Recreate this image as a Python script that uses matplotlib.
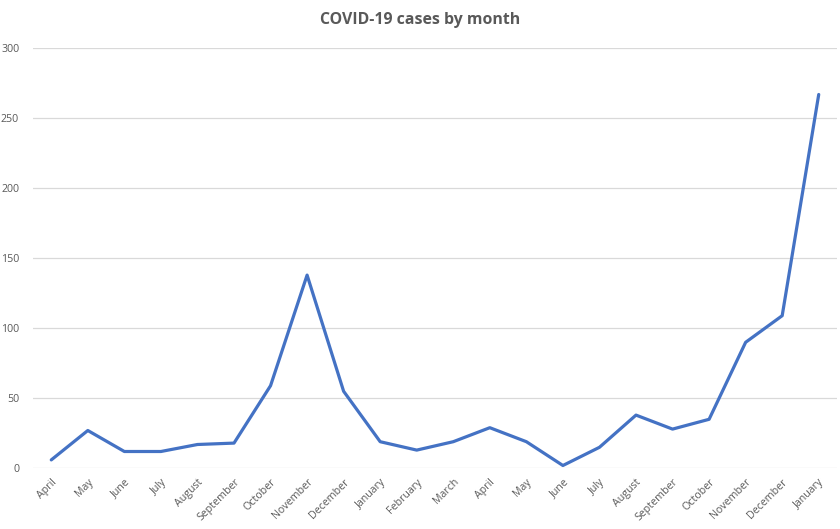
import matplotlib
matplotlib.use("Agg")
import matplotlib.pyplot as plt

months = ["April", "May", "June", "July", "August", "September", "October",
          "November", "December", "January", "February", "March", "April",
          "May", "June", "July", "August", "September", "October",
          "November", "December", "January"]
cases = [6, 27, 12, 12, 17, 18, 59, 138, 55, 19, 13, 19, 29, 19, 2, 15,
         38, 28, 35, 90, 109, 267]
yticks = [0, 50, 100, 150, 200, 250, 300]

plt.rcParams['font.family'] = ['Open Sans', 'DejaVu Sans']

fig = plt.figure(figsize=(8.4, 5.29), dpi=100)
ax = fig.add_axes([33/840, 1-468.3/529, (837-33)/840, (468.3-48.3)/529])

x = list(range(len(months)))
ax.plot(x, cases, color="#4472C4", linewidth=2.3, solid_joinstyle="round",
        solid_capstyle="round", zorder=3)

ax.set_xlim(-0.5, len(months) - 0.5)
ax.set_ylim(0, 300)
ax.set_yticks(yticks)
ax.set_xticks(x)
ax.set_xticklabels(months, rotation=45, ha="right", rotation_mode="anchor",
                   fontsize=7.7, color="#595959")
ax.tick_params(axis="y", labelsize=7.7, labelcolor="#595959", length=0, pad=10)
ax.tick_params(axis="x", length=0, pad=6)
ax.grid(axis="y", color="#D9D9D9", linewidth=0.9)
ax.set_axisbelow(True)
for s in ax.spines.values():
    s.set_visible(False)

fig.text(0.5, 1-20/529, "COVID-19 cases by month", ha="center", va="center",
         fontsize=11.4, fontweight="bold", color="#595959")

fig.savefig("out.png", dpi=100)
